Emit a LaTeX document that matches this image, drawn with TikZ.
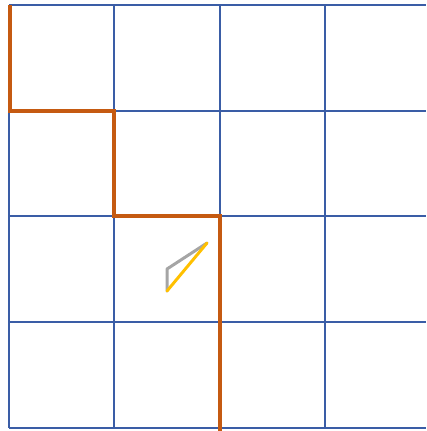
\documentclass[tikz,border=0pt]{standalone}
\definecolor{gridblue}{HTML}{3A5DA6}
\definecolor{pathorange}{HTML}{C55A11}
\definecolor{triyellow}{HTML}{FFC000}
\definecolor{trigray}{HTML}{A5A5A5}
\tikzset{
  gridline/.style={draw=gridblue, line width=1.1pt},
  thickgrid/.style={draw=gridblue, line width=2.2pt},
  route/.style={draw=pathorange, line width=4pt, line join=miter},
  grayedge/.style={draw=trigray, line width=3pt, line cap=round, line join=round},
  yellowedge/.style={draw=triyellow, line width=3pt, line cap=round}
}
\begin{document}
\begin{tikzpicture}[x=1pt,y=-1pt]
\useasboundingbox (0,0) rectangle (426,431);
% horizontal grid lines
\foreach \y in {5,111,216,322,428} \draw[gridline] (9,\y) -- (426,\y);
% vertical grid lines
\foreach \x in {9,114,220} \draw[gridline] (\x,5) -- (\x,428);
\draw[gridline] (325,5) -- (325,322);
\draw[thickgrid] (325,322) -- (325,428);
% orange route
\draw[route] (10,5) -- (10,111) -- (114,111) -- (114,216) -- (220,216) -- (220,431);
% small triangle
\coordinate (ta) at (167,269);
\coordinate (tb) at (207,243);
\coordinate (tc) at (167,291);
\draw[grayedge] (tc) -- (ta) -- (tb);
\draw[yellowedge] (tc) -- (tb);
\end{tikzpicture}
\end{document}
